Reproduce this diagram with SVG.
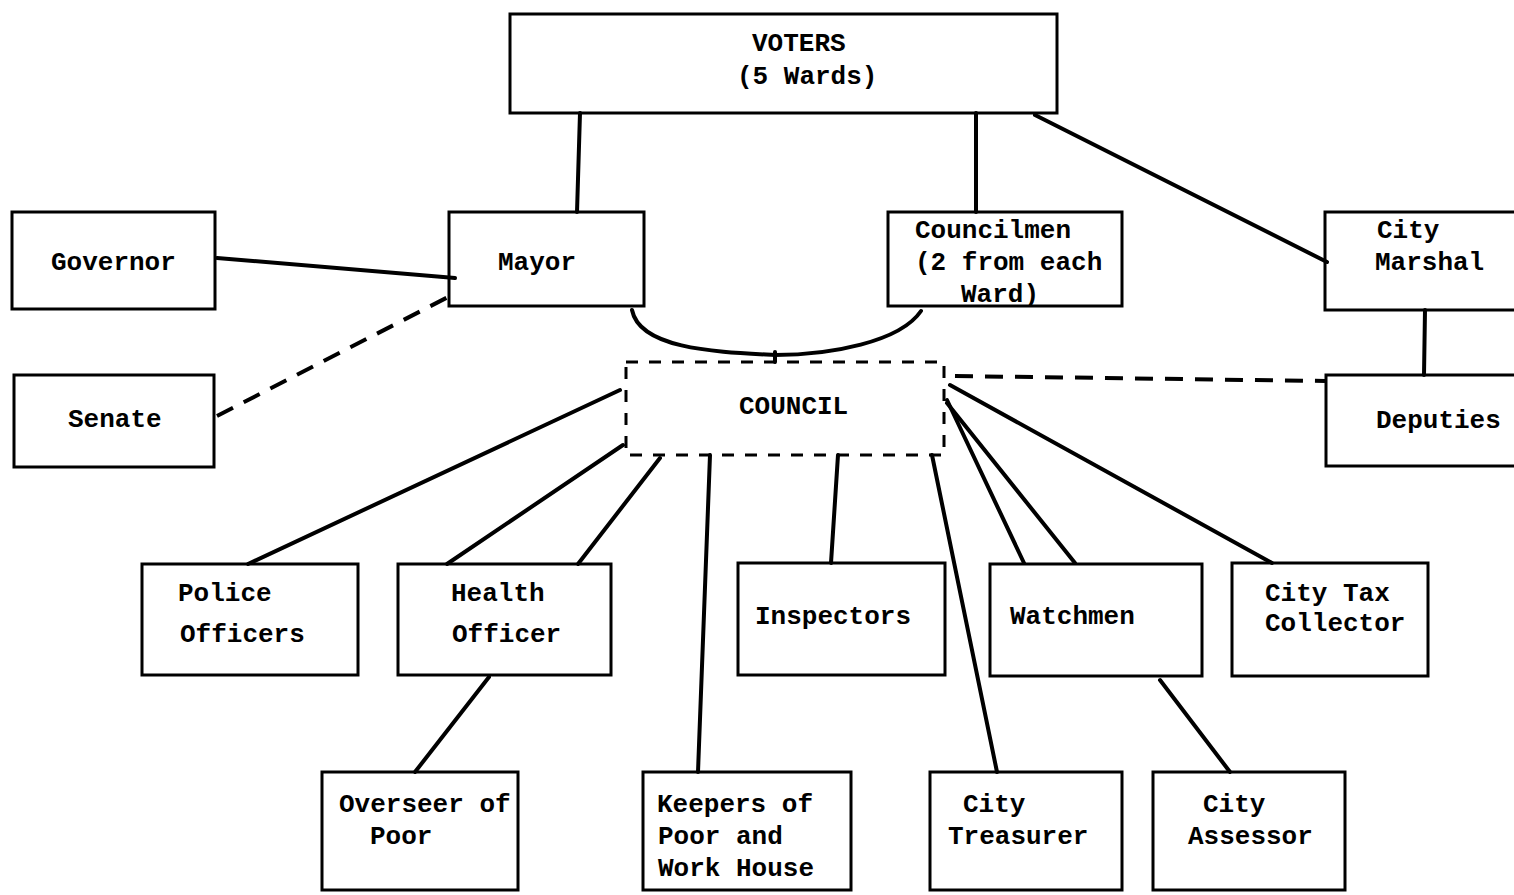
<svg xmlns="http://www.w3.org/2000/svg" width="1514" height="895" viewBox="0 0 1514 895">
<style>
.box{fill:none;stroke:#000;stroke-width:3}
.dbox{fill:none;stroke:#000;stroke-width:3;stroke-dasharray:12 11}
.c{fill:none;stroke:#000;stroke-width:4;stroke-linecap:round}
.d{fill:none;stroke:#000;stroke-width:4;stroke-dasharray:18 12}
text{font-family:"Liberation Mono","DejaVu Sans Mono",monospace;font-size:26px;font-weight:bold;fill:#000}
</style>
<rect width="1514" height="895" fill="#fff"/>
<g id="connectors">
<line class="c" x1="580" y1="113" x2="577" y2="212"/>
<line class="c" x1="976" y1="113" x2="976" y2="212"/>
<line class="c" x1="1035" y1="115" x2="1327" y2="262"/>
<line class="c" x1="217" y1="258" x2="455" y2="278"/>
<line class="d" x1="217" y1="416" x2="452" y2="295"/>
<path class="c" d="M632,310 C640,350 720,352 775,355 C830,355 900,342 921,311"/>
<line class="c" x1="775" y1="352" x2="775" y2="362"/>
<line class="c" x1="620" y1="390" x2="248" y2="564"/>
<line class="c" x1="623" y1="445" x2="447" y2="564"/>
<line class="c" x1="660" y1="458" x2="578" y2="564"/>
<line class="c" x1="710" y1="455" x2="698" y2="772"/>
<line class="c" x1="838" y1="455" x2="831" y2="563"/>
<line class="c" x1="932" y1="455" x2="997" y2="772"/>
<line class="c" x1="947" y1="400" x2="1024" y2="563"/>
<line class="c" x1="947" y1="403" x2="1075" y2="563"/>
<line class="c" x1="950" y1="385" x2="1272" y2="563"/>
<line class="d" x1="955" y1="376" x2="1325" y2="381"/>
<line class="c" x1="1425" y1="310" x2="1424" y2="375"/>
<line class="c" x1="489" y1="677" x2="415" y2="772"/>
<line class="c" x1="1160" y1="680" x2="1230" y2="772"/>
</g>
<g id="voters"><rect class="box" x="510" y="14" width="547" height="99"/><text x="752" y="51">VOTERS</text><text x="737" y="84">(5 Wards)</text></g>
<g id="governor"><rect class="box" x="12" y="212" width="203" height="97"/><text x="51" y="270">Governor</text></g>
<g id="mayor"><rect class="box" x="449" y="212" width="195" height="94"/><text x="498" y="270">Mayor</text></g>
<g id="councilmen"><rect class="box" x="888" y="212" width="234" height="94"/><text x="915" y="238">Councilmen</text><text x="915" y="270">(2 from each</text><text x="961" y="302">Ward)</text></g>
<g id="city-marshal"><rect class="box" x="1325" y="212" width="200" height="98"/><text x="1377" y="238">City</text><text x="1375" y="270">Marshal</text></g>
<g id="senate"><rect class="box" x="14" y="375" width="200" height="92"/><text x="68" y="427">Senate</text></g>
<g id="council"><rect class="dbox" x="626" y="362" width="318" height="93"/><text x="739" y="414">COUNCIL</text></g>
<g id="deputies"><rect class="box" x="1326" y="375" width="200" height="91"/><text x="1376" y="428">Deputies</text></g>
<g id="police-officers"><rect class="box" x="142" y="564" width="216" height="111"/><text x="178" y="601">Police</text><text x="180" y="642">Officers</text></g>
<g id="health-officer"><rect class="box" x="398" y="564" width="213" height="111"/><text x="451" y="601">Health</text><text x="452" y="642">Officer</text></g>
<g id="inspectors"><rect class="box" x="738" y="563" width="207" height="112"/><text x="755" y="624">Inspectors</text></g>
<g id="watchmen"><rect class="box" x="990" y="564" width="212" height="112"/><text x="1010" y="624">Watchmen</text></g>
<g id="city-tax-collector"><rect class="box" x="1232" y="563" width="196" height="113"/><text x="1265" y="601">City Tax</text><text x="1265" y="631">Collector</text></g>
<g id="overseer-of-poor"><rect class="box" x="322" y="772" width="196" height="118"/><text x="339" y="812">Overseer of</text><text x="370" y="844">Poor</text></g>
<g id="keepers"><rect class="box" x="643" y="772" width="208" height="118"/><text x="657" y="812">Keepers of</text><text x="658" y="844">Poor and</text><text x="658" y="876">Work House</text></g>
<g id="city-treasurer"><rect class="box" x="930" y="772" width="192" height="118"/><text x="963" y="812">City</text><text x="948" y="844">Treasurer</text></g>
<g id="city-assessor"><rect class="box" x="1153" y="772" width="192" height="118"/><text x="1203" y="812">City</text><text x="1188" y="844">Assessor</text></g>
</svg>
